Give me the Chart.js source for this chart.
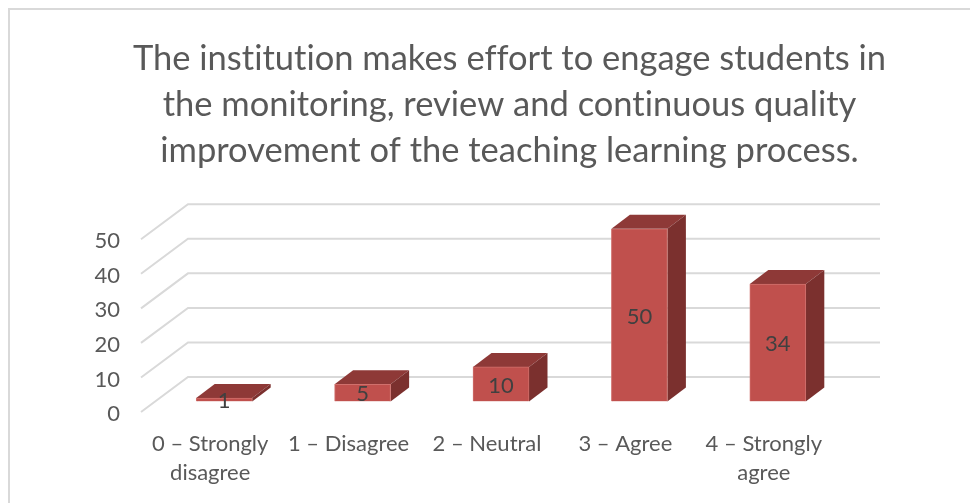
<!DOCTYPE html>
<html>
<head>
<meta charset="utf-8">
<script src="https://cdn.jsdelivr.net/npm/chart.js@4"></script>
<style>
  html, body { margin: 0; padding: 0; background: #ffffff; }
  #wrap { position: absolute; left: 0; top: 0; width: 970px; height: 503px; }
</style>
</head>
<body>
<div id="wrap"><canvas id="bar-chart" width="970" height="503"></canvas></div>
<script>
// title lines
const titleLines = [
  'The institution makes effort to engage students in',
  'the monitoring, review and continuous quality',
  'improvement of the teaching learning process.'
];
// categories
const categories = [['0 – Strongly', 'disagree'], '1 – Disagree', '2 – Neutral', '3 – Agree', ['4 – Strongly', 'agree']];
// bar values
const responseValues = [1, 5, 10, 50, 34];
// y ticks
const tickValues = [0, 10, 20, 30, 40, 50];

const FONT = 'Lato, Carlito, sans-serif';
const TEXT_COLOR = '#595959';
const FRONT_COLOR = '#c0504d';
const TOP_COLOR = '#8e3937';
const SIDE_COLOR = '#7b302e';
const GRID_COLOR = '#d9d9d9';

// wall depth and bar depth (3D look)
const WALL_DX = 47, WALL_DY = -35;
const BAR_DX = 14, BAR_DY = -10.5;
const DEPTH_DX = 18.5, DEPTH_DY = -14;

// border, walls and the bar sides/top
const threeD = {
  id: 'threeD',
  afterLayout(chart) {
    // center the title on the whole frame, not on the padded area
    chart.titleBlock.left = 49;
    chart.titleBlock.right = 970;
  },
  beforeDraw(chart) {
    const ctx = chart.ctx;
    ctx.textRendering = 'optimizeSpeed';
    // outer frame
    ctx.save();
    ctx.strokeStyle = GRID_COLOR;
    ctx.lineWidth = 2;
    ctx.beginPath();
    ctx.moveTo(9, 503);
    ctx.lineTo(9, 9);
    ctx.lineTo(970, 9);
    ctx.stroke();
    ctx.restore();
  },
  beforeDatasetsDraw(chart) {
    const ctx = chart.ctx;
    const area = chart.chartArea;
    const yScale = chart.scales.y;
    // wall lines
    ctx.save();
    ctx.strokeStyle = GRID_COLOR;
    ctx.lineWidth = 2;
    tickValues.forEach(function(v) {
      const y = yScale.getPixelForValue(v);
      ctx.beginPath();
      ctx.moveTo(area.left, y);
      ctx.lineTo(area.left + WALL_DX, y + WALL_DY);
      ctx.lineTo(area.right + WALL_DX, y + WALL_DY);
      ctx.stroke();
    });
    ctx.restore();

    // top and side of every bar, pushed into the floor
    ctx.save();
    ctx.translate(BAR_DX, BAR_DY);
    chart.getDatasetMeta(0).data.forEach(function(bar) {
      const p = bar.getProps(['x', 'y', 'base', 'width'], true);
      const l = p.x - p.width / 2, r = p.x + p.width / 2;
      ctx.fillStyle = TOP_COLOR;
      ctx.beginPath();
      ctx.moveTo(l, p.y);
      ctx.lineTo(l + DEPTH_DX, p.y + DEPTH_DY);
      ctx.lineTo(r + DEPTH_DX, p.y + DEPTH_DY);
      ctx.lineTo(r, p.y);
      ctx.closePath();
      ctx.fill();
      ctx.fillStyle = SIDE_COLOR;
      ctx.beginPath();
      ctx.moveTo(r, p.y);
      ctx.lineTo(r + DEPTH_DX, p.y + DEPTH_DY);
      ctx.lineTo(r + DEPTH_DX, p.base + DEPTH_DY);
      ctx.lineTo(r, p.base);
      ctx.closePath();
      ctx.fill();
    });
    ctx.restore();

    // front faces are drawn by the library, shifted the same way
    ctx.save();
    ctx.translate(BAR_DX, BAR_DY);
  },
  afterDatasetsDraw(chart) {
    const ctx = chart.ctx;
    ctx.restore();

    // value labels
    ctx.save();
    ctx.font = '22px ' + FONT;
    ctx.fillStyle = '#404040';
    ctx.textAlign = 'center';
    ctx.textBaseline = 'middle';
    chart.getDatasetMeta(0).data.forEach(function(bar, i) {
      const p = bar.getProps(['x', 'y', 'base'], true);
      ctx.fillText(responseValues[i], p.x + BAR_DX, (p.y + p.base) / 2 + BAR_DY + 1.5);
    });
    ctx.restore();
  }
};

new Chart(document.getElementById('bar-chart'), {
  type: 'bar',
  data: {
    labels: categories,
    datasets: [{
      data: responseValues,
      backgroundColor: FRONT_COLOR,
      borderColor: '#d0706c',
      borderWidth: 1,
      barThickness: 56
    }]
  },
  options: {
    responsive: false,
    animation: false,
    layout: { padding: { top: 0, right: 137, bottom: 0, left: 0 } },
    plugins: {
      legend: { display: false },
      tooltip: { enabled: false },
      title: {
        display: true,
        text: titleLines,
        color: TEXT_COLOR,
        font: { family: FONT, size: 34.5, weight: 'normal', lineHeight: 1.333 },
        padding: { top: 36, bottom: 65.3 },
        fullSize: true
      }
    },
    scales: {
      x: {
        grid: { display: false },
        border: { display: false },
        ticks: {
          color: TEXT_COLOR,
          font: { family: FONT, size: 22, lineHeight: 1.33 },
          maxRotation: 0,
          autoSkip: false,
          padding: 9
        },
        afterFit(scale) { scale.height = 91; }
      },
      y: {
        min: 0,
        max: 50,
        grid: { display: false },
        border: { display: false },
        ticks: {
          color: TEXT_COLOR,
          font: { family: FONT, size: 22 },
          stepSize: 10,
          padding: 13,
          labelOffset: 2
        },
        afterFit(scale) { scale.width = 141; }
      }
    }
  },
  plugins: [threeD]
});
</script>
</body>
</html>
